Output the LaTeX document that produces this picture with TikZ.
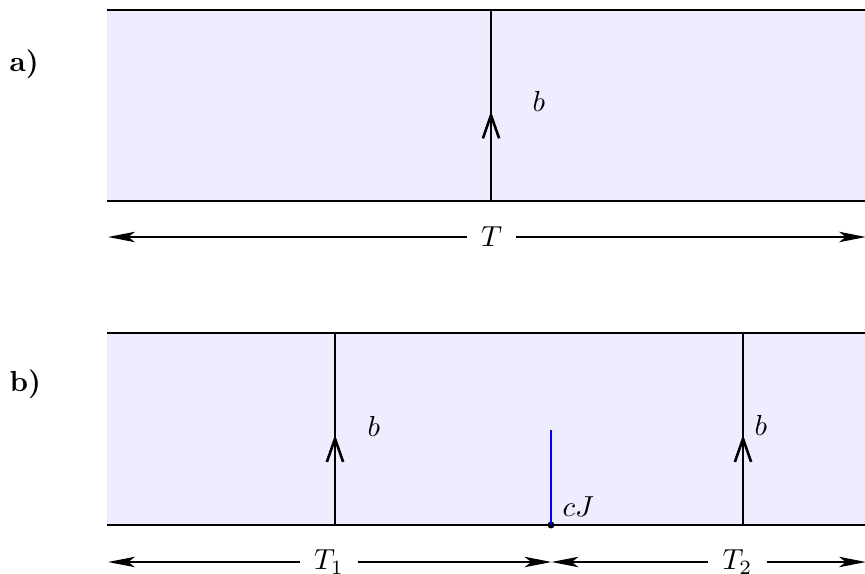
\documentclass[tikz,border=0pt]{standalone}
\usetikzlibrary{arrows.meta,decorations.markings}
\definecolor{panelfill}{rgb}{0.93,0.93,1}
\begin{document}
\begin{tikzpicture}[x=0.345pt,y=-0.345pt,
  panel/.style={fill=panelfill,draw=none},
  edge/.style={line width=0.5pt},
  flux/.style={line width=0.9pt,postaction={decorate},
    decoration={markings,mark=at position 0.47 with {\arrow{Straight Barb[length=8pt,width=5.6pt]}}}},
  dim/.style={line width=0.5pt,-{Stealth[length=9.3pt,width=3.6pt,inset=2.3pt]}},
  lab/.style={font=\bfseries,anchor=base west,inner sep=0pt},
  mathlab/.style={anchor=base west,inner sep=0pt},
  dimlab/.style={inner xsep=4.8pt,inner ysep=0pt}
]
\useasboundingbox (0,0) rectangle (865,574);
\clip (0,0) rectangle (865,574);

% ---------- panel a ----------
\fill[panel] (107,10) rectangle (890,201);
\draw[edge] (107,10) -- (890,10);
\draw[edge] (107,201) -- (890,201);
\coordinate (a0) at (491,201);
\coordinate (a1) at (491,10);
\draw[flux] (a0) -- (a1);
\node[mathlab] (ba) at (532,111) {$b$};
\node[lab] (la) at (9,72) {a)};

\node[dimlab] (Ta) at (491.5,237) {$T$};
\coordinate (aL) at (108,237);
\coordinate (aR) at (866,237);
\draw[dim] (Ta.west) -- (aL);
\draw[dim] (Ta.east) -- (aR);

% ---------- panel b ----------
\fill[panel] (107,333) rectangle (890,525);
\draw[edge] (107,333) -- (890,333);
\draw[edge] (107,525) -- (890,525);
\coordinate (b0) at (335,525);
\coordinate (b1) at (335,333);
\draw[flux] (b0) -- (b1);
\coordinate (c0) at (743,525);
\coordinate (c1) at (743,333);
\draw[flux] (c0) -- (c1);
\node[mathlab] (bb1) at (367,436) {$b$};
\node[mathlab] (bb2) at (754,435) {$b$};
\node[lab] (lb) at (9,391) {b)};

\coordinate (Jt) at (551,430);
\node[circle,fill=black,inner sep=0pt,minimum size=2.4pt] (J) at (551,525) {};
\draw[blue,line width=0.4pt] (J.center) -- (Jt);
\node[mathlab] (cj) at (562,516) {$cJ$};

\node[dimlab] (T1) at (329,562) {$T_1$};
\node[dimlab] (T2) at (737.5,562) {$T_2$};
\coordinate (bL) at (108,562);
\coordinate (bM) at (551.5,562);
\coordinate (bR) at (866,562);
\draw[dim] (T1.west) -- (bL);
\draw[dim] (T1.east) -- (bM);
\draw[dim] (T2.west) -- (bM);
\draw[dim] (T2.east) -- (bR);
\end{tikzpicture}
\end{document}
